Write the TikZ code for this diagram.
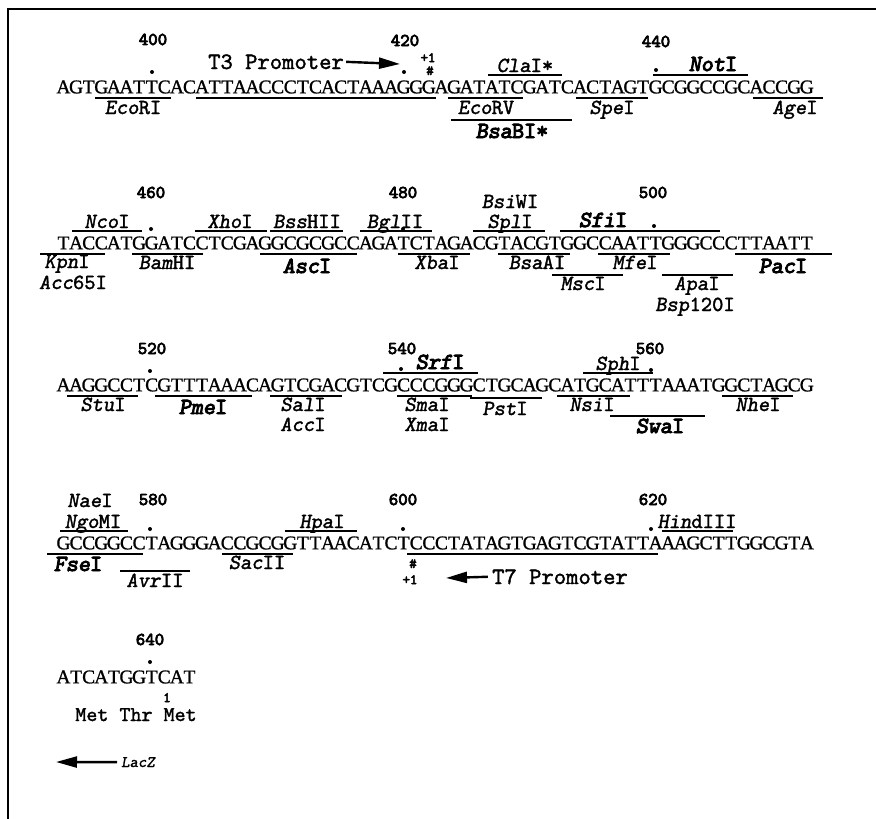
\documentclass[tikz,border=0pt]{standalone}
\usepackage{fontspec}
\setmainfont{Liberation Serif}
\newfontfamily\seqf[FakeBold=1]{Liberation Serif}
\newfontfamily\monof[ItalicFont=lmmonoslant10-regular.otf,FakeBold=1.6]{lmmono10-regular.otf}
\newfontfamily\monobf[ItalicFont=lmmonoslant10-regular.otf,FakeBold=4]{lmmono10-regular.otf}
\usetikzlibrary{arrows.meta}
\newlength\cw \setlength\cw{12.6pt}
\def\seqchars#1{\seqcharsi#1\relax}
\def\seqcharsi#1{\ifx#1\relax\else\makebox[\cw][c]{#1}\expandafter\seqcharsi\fi}
\newcommand\sline[3]{\draw[ulline] (#1,#3) -- (#2,#3);}
\newcommand\sdot[2]{\fill (#1,#2) circle (2);}
\begin{document}
\begin{tikzpicture}[x=1pt,y=-1pt,
  seq/.style={anchor=west,inner sep=0pt,font=\seqf\fontsize{19.5}{19.5}\selectfont},
  enz/.style={inner sep=0pt,anchor=base,font=\monof\fontsize{21.5}{21.5}\selectfont},
  enzb/.style={inner sep=0pt,anchor=base,font=\monobf\fontsize{23}{23}\selectfont},
  num/.style={inner sep=0pt,anchor=base,font=\monobf\fontsize{18}{18}\selectfont},
  small/.style={inner sep=0pt,anchor=base,font=\monobf\fontsize{14}{14}\selectfont},
  prom/.style={inner sep=0pt,anchor=base,font=\monof\fontsize{23.5}{23.5}\selectfont},
  ulline/.style={line width=1.3pt},
  bigarrow/.style={line width=2.4pt,-{Triangle[length=21pt,width=11pt]}}]
\useasboundingbox (0,0) rectangle (876,819);
\draw[line width=2pt] (8,819) -- (8,9) -- (876,9);

% ---------------- Row 1 ----------------
\node[num] (n400) at (153,45) {400};
\node[num] (n420) at (405,46) {420};
\node[num] (n440) at (656,47) {440};
\node[prom] (t3) at (276,69) {T3 Promoter};
\coordinate (t3tip) at (400,64);
\draw[bigarrow] ([xshift=2pt]t3.east) -- (t3tip);
\node[small] (p1a) at (428,62) {+1};
\node[small] (h1) at (430,75) {\#};
\sdot{152}{72} \sdot{404}{72}
\node[seq] (s1) at (57,87) {\seqchars{AGTGAATTCACATTAACCCTCACTAAAGGGAGATATCGATCACTAGTGCGGCCGCACCGG}};
\sline{95}{171}{98}   \node[enz] (ecori) at (133,114) {\textit{Eco}RI};
\sline{196}{436}{98}
\sline{448}{523}{98}  \node[enz] (ecorv) at (486,114) {\textit{Eco}RV};
\sline{451}{572}{120} \node[enzb] (bsabi) at (512,138) {\textit{Bsa}BI*};
\sline{488}{562}{75}  \node[enz] (clai) at (525,72) {\textit{Cla}I*};
\sline{576}{648}{98}  \node[enz] (spei) at (612,114) {\textit{Spe}I};
\sline{653}{748}{75}  \node[enzb] (noti) at (713,71) {\textit{Not}I};
\sdot{656}{70}
\sline{753}{823}{98}  \node[enz] (agei) at (795,114) {\textit{Age}I};

% ---------------- Row 2 ----------------
\node[num] (n460) at (151,198) {460};
\node[num] (n480) at (403,198) {480};
\node[num] (n500) at (653,198) {500};
\node[seq] (s2) at (57,243) {\seqchars{TACCATGGATCCTCGAGGCGCGCCAGATCTAGACGTACGTGGCCAATTGGGCCCTTAATT}};
\sline{72}{142}{231}  \node[enz] (ncoi) at (107,228) {\textit{Nco}I};
\sdot{151}{229}
\sline{195}{267}{231} \node[enz] (xhoi) at (230,228) {\textit{Xho}I};
\sline{270}{343}{231} \node[enz] (bsshii) at (307,228) {\textit{Bss}HII};
\sline{360}{432}{231} \node[enz] (bglii) at (395,228) {\textit{Bgl}II};
\sdot{403}{229}
\node[enz] (bsiwi) at (510,208) {\textit{Bsi}WI};
\sline{473}{545}{231} \node[enz] (spli) at (510,228) {\textit{Spl}I};
\sline{560}{720}{231} \node[enzb] (sfii) at (603,227) {\textit{Sfi}I};
\sdot{654}{226}
\sline{40}{105}{254}  \node[enz] (kpni) at (67,268) {\textit{Kpn}I};
\node[enz] (acc65i) at (73,289) {\textit{Acc}65I};
\sline{132}{203}{254} \node[enz] (bamhi) at (167,269) {\textit{Bam}HI};
\sline{260}{357}{254} \node[enzb] (asci) at (307,273) {\textit{Asc}I};
\sline{398}{470}{254} \node[enz] (xbai) at (437,269) {\textit{Xba}I};
\sline{498}{570}{254} \node[enz] (bsaai) at (537,269) {\textit{Bsa}AI};
\sline{598}{670}{254} \node[enz] (mfei) at (635,269) {\textit{Mfe}I};
\sline{735}{832}{254} \node[enzb] (paci) at (783,273) {\textit{Pac}I};
\sline{552}{623}{275} \node[enz] (msci) at (583,290) {\textit{Msc}I};
\sline{662}{733}{275} \node[enz] (apai) at (697,290) {\textit{Apa}I};
\node[enz] (bsp120i) at (695,311) {\textit{Bsp}120I};

% ---------------- Row 3 ----------------
\node[num] (n520) at (152,354) {520};
\node[num] (n540) at (402,354) {540};
\node[num] (n560) at (650,354) {560};
\sdot{150}{371}
\node[seq] (s3) at (57,385) {\seqchars{AAGGCCTCGTTTAAACAGTCGACGTCGCCCGGGCTGCAGCATGCATTTAAATGGCTAGCG}};
\sline{383}{478}{373} \node[enzb] (srfi) at (440,369) {\textit{Srf}I};
\sdot{401}{369}
\sline{583}{653}{373} \node[enz] (sphi) at (618,370) {\textit{Sph}I};
\sdot{651}{370}
\sline{67}{138}{396}  \node[enz] (stui) at (103,411) {\textit{Stu}I};
\sline{155}{252}{396} \node[enzb] (pmei) at (203,414) {\textit{Pme}I};
\sline{270}{342}{396} \node[enz] (sali) at (303,411) {\textit{Sal}I};
\node[enz] (acci) at (303,431) {\textit{Acc}I};
\sline{397}{472}{396} \node[enz] (smai) at (427,411) {\textit{Sma}I};
\node[enz] (xmai) at (427,431) {\textit{Xma}I};
\sline{470}{542}{398} \node[enz] (psti) at (505,415) {\textit{Pst}I};
\sline{557}{630}{396} \node[enz] (nsii) at (592,411) {\textit{Nsi}I};
\sline{610}{705}{416} \node[enzb] (swai) at (660,433) {\textit{Swa}I};
\sline{722}{793}{396} \node[enz] (nhei) at (758,411) {\textit{Nhe}I};

% ---------------- Row 4 ----------------
\node[num] (n580) at (153,505) {580};
\node[num] (n600) at (403,505) {600};
\node[num] (n620) at (653,505) {620};
\node[enz] (naei) at (90,507) {\textit{Nae}I};
\sline{60}{128}{531}  \node[enz] (ngomi) at (93,528) {\textit{Ngo}MI};
\sdot{150}{529}
\sline{285}{357}{531} \node[enz] (hpai) at (322,528) {\textit{Hpa}I};
\sdot{403}{529}
\sline{662}{733}{531} \node[enz] (hindiii) at (697,528) {\textit{Hin}dIII};
\sdot{651}{529}
\node[seq] (s4) at (57,543) {\seqchars{GCCGGCCTAGGGACCGCGGTTAACATCTCCCTATAGTGAGTCGTATTAAAGCTTGGCGTA}};
\sline{47}{143}{554}  \node[enzb] (fsei) at (78,571) {\textit{Fse}I};
\sline{120}{190}{571} \node[enz] (avrii) at (155,587) {\textit{Avr}II};
\sline{222}{293}{554} \node[enz] (sacii) at (257,569) {\textit{Sac}II};
\sline{407}{658}{554}
\node[small] (h2) at (413,568) {\#};
\node[small] (p1b) at (410,584) {+1};
\node[prom] (t7) at (560,584) {T7 Promoter};
\coordinate (t7tip) at (446,578);
\draw[bigarrow] ([xshift=-4pt]t7.west) -- (t7tip);

% ---------------- Row 5 ----------------
\node[num] (n640) at (150,645) {640};
\sdot{150}{662}
\node[seq] (s5) at (57,677) {\seqchars{ATCATGGTCAT}};
\node[small] (one) at (167,702) {1};
\node[inner sep=0pt,anchor=base,font=\monof\fontsize{21}{21}\selectfont] (met) at (136,721) {Met Thr Met};
\node[inner sep=0pt,anchor=base,font=\monof\itshape\fontsize{16}{16}\selectfont] (lacz) at (138,767) {LacZ};
\coordinate (lactip) at (56,762);
\draw[bigarrow] ([xshift=-4pt]lacz.west) -- (lactip);
\end{tikzpicture}
\end{document}
